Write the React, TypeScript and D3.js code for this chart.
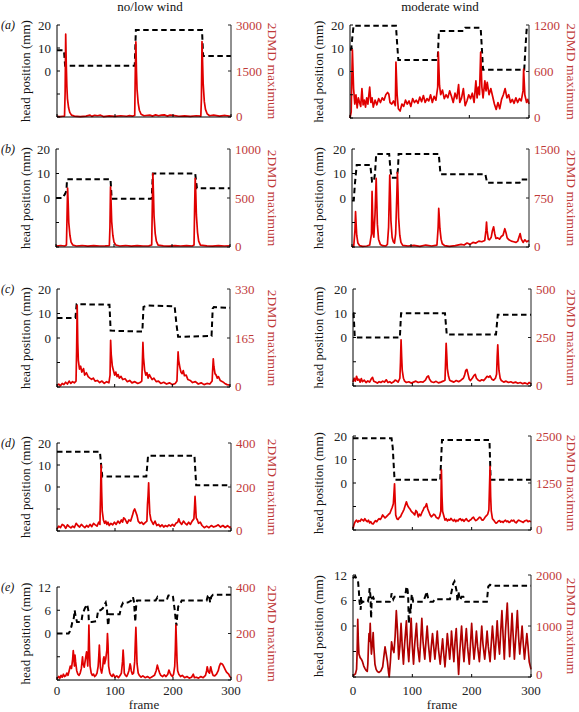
import React from "react";
import * as d3 from "d3";

type P = [number, number];

const FONT = "Liberation Serif, Times New Roman, Times, DejaVu Serif, serif";
const frameTicks = [0, 100, 200, 300];
const columnTitles = ["no/low wind", "moderate wind"];
const panelLetters = ["a", "b", "c", "d", "e"];

// ---------- (a) ----------
const headA_L: P[] = [[0,9],[12,9],[14,2.3],[134,2.3],[136,17.8],[250,17.8],[252,6.5],[300,6.5]];
const dmdA_L: P[] = [[0,20],[5,10],[10,25],[13,30],[14,800],[15,2700],[16,1700],[17,1000],[18,600],[20,300],[22,150],[25,60],[30,30],[40,15],[50,30],[57,60],[60,20],[65,55],[70,40],[75,60],[80,15],[90,35],[100,20],[110,40],[120,25],[125,45],[130,30],[134,50],[135,1500],[136,2450],[137,1500],[138,900],[140,450],[142,220],[145,90],[150,40],[160,60],[165,30],[170,70],[175,40],[180,60],[185,70],[190,30],[195,60],[200,50],[210,25],[220,35],[230,20],[240,40],[248,30],[249,600],[250,2460],[251,1800],[252,1100],[254,500],[256,250],[259,100],[263,40],[270,60],[280,30],[290,50],[300,20]];
const headA_R: P[] = [[0,9.4],[2,9.4],[4,15],[6,19.7],[77,19.7],[79,12],[81,5],[147,5],[149,17.4],[190,17.4],[193,18.8],[219,18.8],[221,10],[223,0.7],[292,0.7],[294,10],[296,18],[300,18]];
const dmdA_R: P[] = [[0,0],[2,80],[4,880],[6,380],[8,180],[10,300],[12,130],[14,260],[16,200],[18,150],[20,380],[22,170],[24,230],[26,140],[28,260],[30,180],[33,400],[35,200],[37,260],[39,140],[42,230],[45,170],[48,250],[51,200],[54,260],[57,230],[60,300],[63,330],[65,310],[67,200],[70,180],[73,220],[76,160],[77,720],[79,300],[81,120],[84,90],[87,180],[90,150],[93,230],[96,180],[99,220],[102,150],[105,250],[108,200],[111,230],[114,190],[117,270],[120,210],[123,290],[126,200],[129,250],[132,220],[135,300],[138,200],[141,280],[144,230],[147,400],[148,850],[150,420],[152,300],[155,360],[158,250],[161,300],[164,260],[167,350],[170,280],[173,200],[176,320],[179,250],[182,430],[184,200],[187,260],[190,380],[193,160],[196,220],[199,300],[202,250],[205,320],[208,200],[211,480],[213,260],[215,400],[217,300],[219,850],[221,400],[223,260],[226,480],[228,350],[230,460],[233,300],[236,380],[239,280],[242,180],[245,110],[248,200],[251,120],[254,240],[257,300],[260,380],[263,260],[266,300],[269,200],[272,240],[275,190],[278,260],[281,200],[284,250],[287,220],[290,350],[291,630],[293,300],[296,200],[298,240],[300,180]];

// ---------- (b) ----------
const headB_L: P[] = [[0,0],[12,0],[14,1],[16,1.8],[18,3],[19,7.7],[94,7.7],[96,-0.3],[165,-0.3],[167,10],[240,10],[243,4],[300,4]];
const dmdB_L: P[] = [[0,10],[8,15],[15,10],[18,20],[19,300],[20,600],[21,450],[22,250],[24,120],[26,50],[29,20],[35,10],[45,15],[55,8],[65,14],[75,10],[85,12],[92,15],[93,200],[94,615],[95,450],[96,260],[98,120],[100,50],[103,20],[110,10],[120,15],[130,8],[140,14],[150,10],[160,12],[165,20],[166,400],[167,750],[168,550],[169,320],[171,140],[173,60],[176,20],[185,12],[195,8],[205,14],[215,10],[225,15],[235,10],[238,20],[239,400],[240,700],[241,550],[242,330],[244,150],[246,60],[249,20],[260,12],[270,8],[280,14],[290,10],[300,12]];
const headB_R: P[] = [[0,-1],[3,-1],[5,6],[8,13.5],[31,13.5],[34,6.6],[37,6.6],[39,10],[41,18],[63,18],[65,12],[67,8.3],[76,8.3],[78,12],[79,18],[147,18],[150,9.7],[226,9.7],[229,6.2],[284,6.2],[286,7.6],[300,7.6]];
const dmdB_R: P[] = [[0,0],[3,20],[5,250],[6,540],[7,350],[8,180],[10,60],[13,20],[18,10],[25,15],[30,30],[33,200],[34,850],[35,500],[36,200],[37,150],[39,500],[41,1050],[42,700],[43,350],[45,120],[48,40],[52,20],[57,15],[60,40],[62,300],[64,1100],[65,800],[66,400],[68,150],[70,80],[72,60],[74,200],[76,800],[77,1140],[78,850],[79,450],[81,180],[83,70],[86,25],[95,15],[105,25],[115,10],[125,30],[135,15],[144,30],[146,300],[147,590],[148,450],[149,280],[151,120],[153,50],[157,20],[165,10],[175,20],[185,40],[190,30],[195,60],[200,40],[205,70],[210,60],[215,90],[220,80],[225,100],[227,250],[228,380],[229,250],[231,120],[233,110],[236,150],[238,250],[240,310],[242,200],[244,130],[247,140],[250,120],[253,160],[256,180],[259,280],[261,220],[263,140],[266,110],[270,90],[274,80],[278,70],[281,90],[283,150],[285,205],[287,120],[290,70],[293,110],[296,80],[300,100]];

// ---------- (c) ----------
const headC_L: P[] = [[0,8.2],[32,8.2],[34,13.8],[91,13.6],[93,3],[148,2.6],[150,12.7],[158,13.3],[204,12.9],[207,6],[210,0.5],[268,0.8],[270,12],[272,12.6],[300,12.3]];
const dmdC_L: P[] = [[0,5],[3,10],[6,4],[9,12],[12,8],[15,16],[18,10],[21,20],[24,12],[27,18],[30,14],[33,20],[34,120],[35,275],[36,150],[37,90],[39,60],[41,70],[43,50],[46,62],[48,40],[51,48],[54,35],[57,30],[60,26],[63,30],[66,20],[70,22],[74,15],[78,20],[82,12],[86,18],[90,14],[92,40],[93,157],[94,110],[96,70],[98,55],[100,40],[102,50],[104,35],[106,42],[108,30],[111,36],[114,25],[118,28],[122,18],[126,22],[130,14],[135,18],[140,12],[144,15],[147,20],[148,80],[149,150],[150,100],[152,56],[154,40],[156,48],[158,30],[160,42],[162,35],[165,25],[168,30],[172,18],[176,20],[180,12],[185,16],[190,10],[195,14],[200,8],[205,12],[208,20],[209,70],[210,118],[211,90],[213,67],[215,50],[217,45],[219,55],[221,38],[224,40],[227,25],[231,22],[235,15],[240,18],[245,10],[250,14],[255,8],[260,12],[265,10],[269,20],[270,60],[271,95],[272,70],[274,45],[276,40],[278,30],[280,35],[283,22],[287,18],[291,12],[295,8],[300,6]];
const headC_R: P[] = [[0,10],[1,10],[3,0],[79,0],[81,10],[155,10],[158,1.2],[241,1.2],[244,9.4],[300,9.4]];
const dmdC_R: P[] = [[0,20],[2,40],[4,25],[6,50],[8,30],[10,35],[12,20],[14,38],[16,22],[19,30],[22,18],[25,26],[28,20],[31,38],[33,44],[35,25],[38,20],[41,15],[44,22],[47,18],[50,25],[53,20],[56,32],[59,18],[62,22],[65,15],[68,20],[71,30],[73,28],[76,20],[79,40],[80,120],[81,238],[82,150],[83,80],[85,40],[87,25],[90,18],[94,22],[98,15],[102,20],[106,25],[110,18],[114,22],[118,20],[122,30],[125,48],[127,52],[129,35],[132,22],[136,18],[140,24],[144,16],[148,20],[152,25],[155,30],[156,120],[157,220],[158,160],[159,90],[161,50],[163,30],[166,25],[170,20],[174,28],[178,22],[182,30],[186,40],[188,55],[190,80],[192,85],[194,60],[196,35],[198,28],[201,40],[204,55],[206,60],[208,40],[211,30],[214,26],[217,32],[220,28],[223,38],[226,50],[229,45],[231,52],[234,35],[237,30],[240,40],[242,60],[243,150],[244,212],[245,140],[246,80],[248,40],[250,28],[254,20],[258,25],[262,18],[266,22],[270,16],[274,20],[278,14],[282,18],[286,12],[290,16],[294,10],[297,18],[300,12]];

// ---------- (d) ----------
const headD_L: P[] = [[0,16],[74,16],[78,4.8],[154,4.8],[157,14.2],[237,14.2],[240,0.8],[300,0.8]];
const dmdD_L: P[] = [[0,10],[3,22],[6,15],[9,30],[12,25],[15,12],[18,28],[21,20],[24,14],[27,22],[30,16],[33,35],[36,25],[39,18],[42,30],[45,22],[48,15],[51,25],[54,18],[57,30],[60,20],[63,35],[66,28],[69,22],[72,40],[74,30],[75,150],[76,300],[77,180],[78,90],[80,50],[82,35],[84,45],[86,30],[88,40],[90,25],[93,35],[96,28],[99,40],[102,30],[105,45],[108,35],[111,50],[113,40],[115,60],[117,55],[119,45],[121,35],[124,50],[127,45],[130,70],[132,90],[134,100],[136,85],[138,70],[140,45],[143,35],[146,40],[149,30],[152,38],[155,45],[156,120],[157,160],[158,219],[159,140],[160,80],[162,50],[164,40],[166,30],[169,45],[172,25],[175,30],[178,20],[181,28],[184,18],[187,25],[190,20],[193,28],[196,22],[199,30],[202,22],[205,35],[208,40],[210,55],[212,40],[215,30],[218,45],[221,35],[224,28],[227,40],[230,30],[233,45],[236,55],[237,100],[238,157],[239,110],[240,60],[242,50],[244,35],[247,40],[250,25],[254,15],[258,22],[262,15],[266,25],[270,18],[274,22],[278,28],[282,18],[286,25],[290,16],[294,24],[298,15],[300,20]];
const headD_R: P[] = [[0,19],[65,19],[67,15],[70,1.4],[147,1.4],[150,18.3],[230,18.3],[232,1.4],[300,1.4]];
const dmdD_R: P[] = [[0,40],[2,160],[4,230],[6,260],[8,210],[10,250],[12,230],[14,290],[16,270],[18,240],[20,300],[22,250],[24,220],[26,260],[28,190],[30,220],[32,170],[34,160],[36,210],[38,250],[40,220],[42,270],[44,300],[46,280],[48,330],[50,400],[52,360],[54,320],[56,350],[58,380],[60,420],[62,440],[64,520],[66,600],[68,700],[70,1230],[71,800],[72,400],[74,300],[76,280],[78,330],[80,350],[82,420],[84,480],[86,550],[88,650],[90,750],[92,650],[94,600],[96,560],[98,500],[100,470],[102,440],[104,400],[106,520],[108,480],[110,350],[112,420],[114,380],[116,460],[118,520],[120,600],[122,620],[124,700],[126,560],[128,480],[130,400],[132,350],[134,380],[136,420],[138,400],[140,340],[142,320],[144,300],[146,360],[148,500],[149,1600],[150,900],[151,500],[153,380],[155,264],[157,300],[159,240],[161,280],[163,260],[165,310],[167,270],[169,240],[171,280],[173,220],[175,260],[177,240],[179,290],[181,300],[183,250],[185,280],[187,230],[189,270],[191,300],[193,250],[195,230],[197,260],[199,280],[201,320],[203,340],[205,280],[207,250],[209,270],[211,300],[213,340],[215,330],[217,270],[219,260],[221,300],[223,350],[225,380],[227,420],[229,530],[231,1690],[232,900],[233,500],[235,300],[237,264],[239,220],[241,180],[243,200],[245,240],[247,250],[249,210],[251,230],[253,200],[255,240],[257,260],[259,220],[261,240],[263,200],[265,220],[267,260],[269,240],[271,260],[273,210],[275,190],[277,230],[279,260],[281,250],[283,230],[285,220],[287,200],[289,240],[291,250],[293,260],[295,220],[297,240],[300,220]];

// ---------- (e) ----------
const headE_L: P[] = [[0,0],[20,0],[22,0.5],[25,1.9],[27,3.4],[29,4],[30.5,6],[32,4.5],[34.5,3],[42,3],[44,5],[48,6.5],[50,7],[52,7.5],[54,6],[55,3],[60,3],[68,3.2],[71,6],[75,6],[79,6.5],[82,7.5],[84,8],[86,6.5],[88,2],[89,3],[90,5],[96,5],[102,5],[108,5],[111,7],[114,8],[122,8],[128,8.5],[131,9.4],[133,8],[134,5],[135,3],[136,6],[137,8],[138,8.5],[160,8.5],[170,8.5],[173,9.3],[175,8.5],[189,8.5],[192,9.8],[197,10],[200,9.5],[203,6],[205,3],[206,2],[207,4],[209,7],[212,7.5],[215,8.5],[235,8.5],[258,8.5],[260,9.7],[262,10],[264,8],[266,9.5],[269,10],[300,10]];
const dmdE_L: P[] = [[0,5],[3,15],[5,8],[7,20],[9,12],[11,25],[13,15],[15,18],[17,30],[19,20],[21,40],[23,60],[25,50],[27,90],[28,126],[29,100],[30,60],[31,107],[32,80],[34,40],[36,25],[38,20],[40,30],[42,50],[44,100],[45,70],[47,55],[49,90],[51,121],[52,100],[53,60],[54,120],[55,236],[56,130],[57,60],[59,30],[61,20],[63,25],[65,15],[67,20],[69,30],[71,60],[72,100],[73,150],[74,100],[75,50],[77,30],[79,60],[80,90],[81,100],[82,70],[84,90],[86,130],[87,200],[88,150],[89,60],[91,30],[93,20],[95,15],[97,25],[100,12],[103,18],[106,10],[109,20],[111,30],[113,80],[114,129],[115,90],[116,30],[118,20],[120,15],[122,25],[124,40],[126,69],[127,60],[128,40],[130,25],[132,30],[134,80],[135,160],[136,226],[137,150],[138,70],[140,30],[142,20],[145,12],[148,18],[152,10],[156,15],[160,8],[164,14],[168,20],[171,40],[173,64],[175,45],[177,30],[179,20],[182,15],[185,22],[188,15],[191,25],[193,43],[195,30],[197,20],[199,15],[201,25],[203,60],[204,130],[205,236],[206,160],[207,80],[208,40],[210,25],[213,15],[216,20],[220,10],[224,15],[228,8],[232,12],[235,25],[237,10],[240,12],[244,8],[248,15],[252,10],[256,20],[258,40],[259,57],[261,35],[263,30],[265,57],[267,35],[269,20],[272,18],[275,25],[278,40],[280,60],[282,72],[284,70],[286,65],[288,55],[290,45],[292,35],[294,30],[296,25],[298,15],[300,10]];
const headE_R: P[] = [[0,11.2],[2,11.5],[4,11.7],[6,11],[8.5,10.5],[10,8],[11,5.7],[13,3.8],[13.5,6.9],[15,5.5],[17,5.7],[25,5.7],[27,7],[28,8.9],[29.5,7],[30.5,1.8],[31.6,6.5],[34,6.8],[37,5.7],[39.5,5.7],[50,5.7],[62,5.7],[64,6.5],[65,7.7],[68,6.3],[70,6.9],[73,6.9],[87,6.9],[89,8],[90,9.3],[92,8.5],[93,7],[94,0.6],[96,4.6],[97,3],[99,7.5],[101.5,5.7],[104,5.7],[118,5.7],[122,7],[124,8.1],[127,6.3],[130,5.7],[135,5.7],[138,6.3],[163.5,6.3],[166,8],[169,10],[171,10.5],[173,9.3],[175,8],[176,5.7],[177.7,8.1],[179,7],[180.5,6.1],[183,6.9],[186,6.9],[189,5.7],[225.6,5.7],[228,9.3],[231,9.7],[234,9.5],[300,9.5]];
const dmdE_R: P[] = [[0,30],[2,40],[4,60],[6,150],[7,500],[8,1130],[9,700],[10,450],[12,380],[14,350],[16,300],[18,220],[20,170],[22,130],[24,110],[25,250],[26,600],[27,850],[28,700],[29,1050],[30,700],[31,450],[33,700],[34,870],[35,600],[37,250],[39,150],[41,110],[44,90],[47,120],[50,200],[52,400],[54,590],[56,450],[58,300],[60,80],[61,0],[63,300],[65,690],[67,550],[69,480],[71,800],[73,1300],[75,900],[77,350],[79,600],[81,1050],[83,600],[85,250],[87,650],[90,1100],[92,600],[94,300],[96,700],[98,1150],[100,600],[102,250],[104,650],[107,1050],[109,600],[112,300],[114,700],[116,1150],[118,700],[121,350],[123,700],[125,1000],[127,650],[130,300],[132,600],[134,850],[136,600],[138,350],[140,600],[142,900],[144,550],[147,250],[149,500],[151,750],[153,450],[155,200],[157,500],[159,850],[161,600],[163,350],[165,650],[166,900],[168,600],[170,300],[172,700],[174,950],[176,500],[178,50],[180,500],[183,1000],[185,600],[187,300],[189,650],[191,950],[193,600],[196,250],[198,650],[200,1050],[202,650],[204,350],[206,600],[208,900],[210,600],[213,300],[215,650],[217,1000],[219,650],[222,350],[224,600],[226,900],[228,600],[231,300],[233,650],[235,1000],[237,700],[239,350],[241,700],[243,1100],[245,700],[247,450],[249,900],[251,1300],[253,800],[255,350],[257,900],[260,1450],[262,900],[264,400],[266,800],[268,1250],[270,800],[272,350],[275,900],[277,1300],[279,800],[281,450],[283,700],[285,1000],[287,650],[289,350],[291,600],[293,850],[295,600],[297,300],[299,200],[300,150]];

// axis tick values
const headTicks20 = [20, 10, 0, -10, -20];
const headLabels20 = [20, 10, 0];
const headTicks12 = [12, 6, 0, -6, -12];
const headLabels12 = [12, 6, 0];
const dmdMaxes = [[3000, 1200], [1000, 1500], [330, 500], [400, 2500], [400, 2000]];

type Layout = { l: number; r: number; t: number; b: number };
const layouts: Layout[][] = [
  [{ l: 57, r: 231, t: 25, b: 117 }, { l: 350, r: 529, t: 25, b: 118 }],
  [{ l: 56, r: 230, t: 149, b: 247 }, { l: 352, r: 529, t: 149, b: 247 }],
  [{ l: 57, r: 230, t: 289, b: 387 }, { l: 353, r: 531, t: 289, b: 386 }],
  [{ l: 57, r: 231, t: 443, b: 531 }, { l: 353, r: 531, t: 436, b: 530 }],
  [{ l: 57, r: 231, t: 587, b: 680 }, { l: 353, r: 531, t: 575, b: 677 }],
];
const heads: P[][][] = [[headA_L, headA_R], [headB_L, headB_R], [headC_L, headC_R], [headD_L, headD_R], [headE_L, headE_R]];
const dmds: P[][][] = [[dmdA_L, dmdA_R], [dmdB_L, dmdB_R], [dmdC_L, dmdC_R], [dmdD_L, dmdD_R], [dmdE_L, dmdE_R]];

const RED = "#e00000";
const DARK_RED = "#b00000";
const AXIS_RED = "#bf3a3a";

function Panel({ row, col }: { row: number; col: number }) {
  const L = layouts[row][col];
  const isE = row === 4;
  const hMax = isE ? 12 : 20;
  const x = d3.scaleLinear().domain([0, 300]).range([L.l, L.r]);
  const yH = d3.scaleLinear().domain([-hMax, hMax]).range([L.b, L.t]);
  const dMax = dmdMaxes[row][col];
  const yD = d3.scaleLinear().domain([0, dMax]).range([L.b, L.t]);
  const headLine = d3.line<P>().x((d) => x(d[0])).y((d) => yH(d[1]));
  const dmdLine = d3.line<P>().x((d) => x(d[0])).y((d) => yD(d[1]));
  const hTicks = isE ? headTicks12 : headTicks20;
  const hLabels = isE ? headLabels12 : headLabels20;
  const dTicks = [dMax, dMax / 2, 0];
  const midY = (L.t + L.b) / 2;
  const headLabelX = col === 0 ? 25 : 318;
  const dmdLabelX = col === 0 ? 273 : 572;
  const redColor = row === 4 && col === 1 ? DARK_RED : RED;
  const tl = 3;
  const textStyle = { fontFamily: FONT };
  return (
    <g>
      <path d={headLine(heads[row][col]) || ""} fill="none" stroke="#000" strokeWidth={2} strokeDasharray="5.5,3.5" />
      <path d={dmdLine(dmds[row][col]) || ""} fill="none" stroke={redColor} strokeWidth={1.7} strokeLinejoin="round" />
      <line x1={L.l} x2={L.l} y1={L.t} y2={L.b} stroke="#000" strokeWidth={1} />
      <line x1={L.r} x2={L.r} y1={L.t} y2={L.b} stroke="#222" strokeWidth={1} />
      <line x1={L.l} x2={L.r} y1={L.b} y2={L.b} stroke="#000" strokeWidth={1} />
      {hTicks.map((t) => (
        <line key={"h" + t} x1={L.l} x2={L.l + tl} y1={yH(t)} y2={yH(t)} stroke="#000" />
      ))}
      {hLabels.map((t) => (
        <text key={"hl" + t} x={L.l - 6} y={yH(t)} dy="0.35em" textAnchor="end" fontSize={13} style={textStyle} fill="#222">
          {t}
        </text>
      ))}
      {dTicks.map((t) => (
        <line key={"d" + t} x1={L.r - tl} x2={L.r} y1={yD(t)} y2={yD(t)} stroke="#222" />
      ))}
      {dTicks.map((t) => (
        <text key={"dl" + t} x={L.r + 5} y={t === 0 ? yD(t) - (isE ? 3 : 1) : yD(t)} dy="0.35em" textAnchor="start" fontSize={13} style={textStyle} fill={AXIS_RED}>
          {t}
        </text>
      ))}
      {frameTicks.map((t) => (
        <line key={"x" + t} x1={x(t)} x2={x(t)} y1={L.b} y2={L.b - tl} stroke="#000" />
      ))}
      {isE &&
        frameTicks.map((t) => (
          <text key={"xl" + t} x={x(t)} y={695} textAnchor="middle" fontSize={13} style={textStyle} fill="#222">
            {t}
          </text>
        ))}
      {isE && (
        <text x={(L.l + L.r) / 2} y={709} textAnchor="middle" fontSize={13} style={textStyle} fill="#222">
          frame
        </text>
      )}
      <text
        transform={`translate(${headLabelX},${midY}) rotate(-90)`}
        textAnchor="middle"
        dy="0.35em"
        fontSize={13}
        style={textStyle}
        fill="#111"
      >
        head position (mm)
      </text>
      <text
        transform={`translate(${dmdLabelX},${midY}) rotate(90)`}
        textAnchor="middle"
        dy="0.35em"
        fontSize={13.5}
        style={textStyle}
        fill={AXIS_RED}
      >
        2DMD maximum
      </text>
      {col === 0 && (
        <text x={1} y={L.t} dy="0.35em" fontSize={12} style={{ ...textStyle, fontStyle: "italic" }} fill="#111">
          ({panelLetters[row]})
        </text>
      )}
    </g>
  );
}

export default function App() {
  return (
    <svg width={579} height={712} style={{ position: "absolute", left: 0, top: 0, background: "#fff" }}>
      <rect x={0} y={0} width={579} height={712} fill="#fff" />
      <text x={150} y={11} textAnchor="middle" fontSize={13} style={{ fontFamily: FONT }} fill="#111">
        {columnTitles[0]}
      </text>
      <text x={440} y={11} textAnchor="middle" fontSize={13} style={{ fontFamily: FONT }} fill="#111">
        {columnTitles[1]}
      </text>
      {[0, 1, 2, 3, 4].map((r) => (
        <g key={r}>
          <Panel row={r} col={0} />
          <Panel row={r} col={1} />
        </g>
      ))}
    </svg>
  );
}
